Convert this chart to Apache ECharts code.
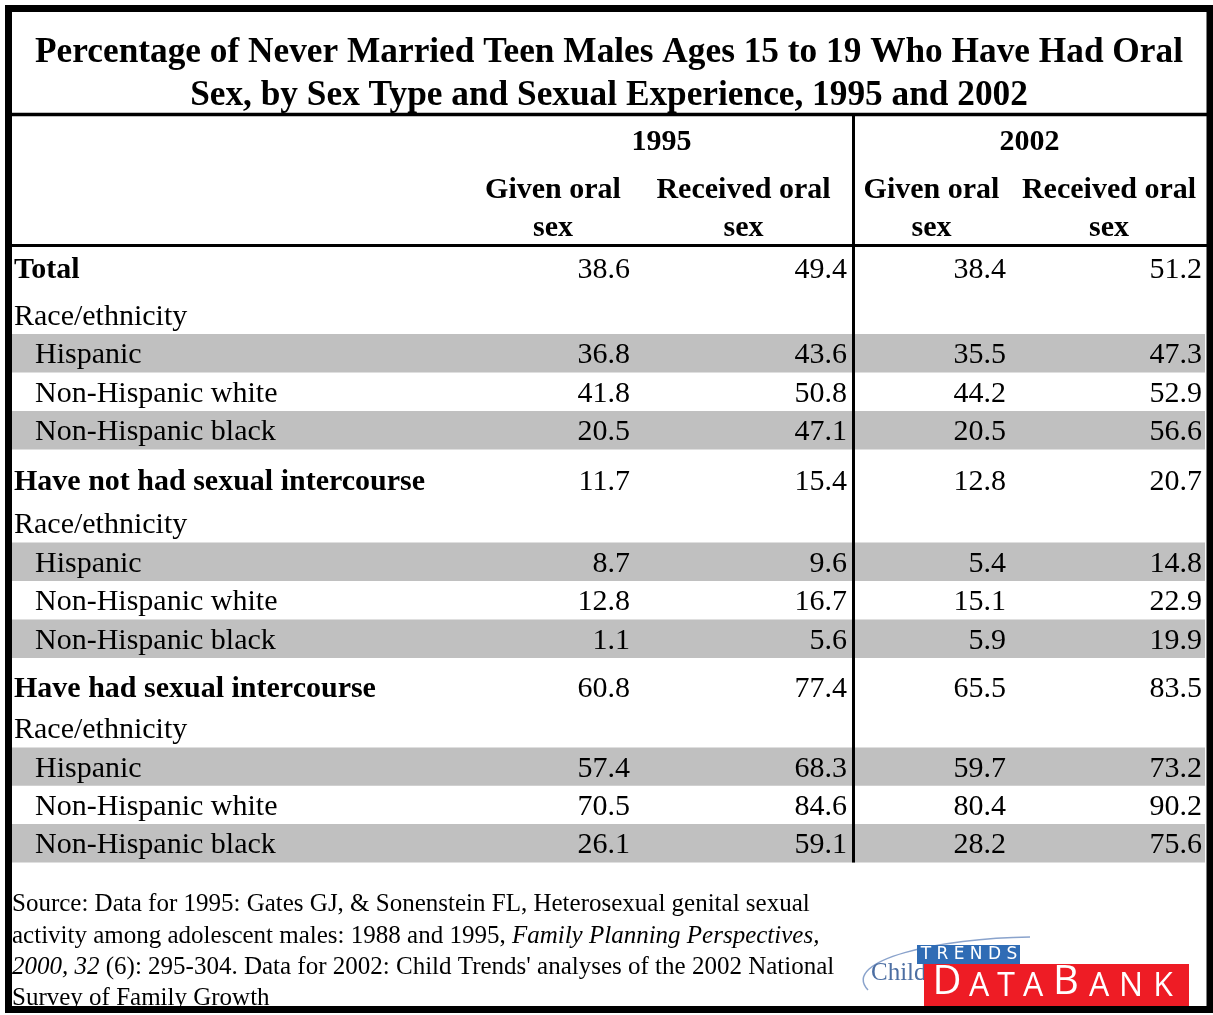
<!DOCTYPE html>
<html>
<head>
<meta charset="utf-8">
<title>Never married teen males - oral sex 1995 and 2002</title>
<script src="https://cdn.jsdelivr.net/npm/echarts@6/dist/echarts.min.js"></script>
<style>
  html, body { margin: 0; padding: 0; background: #fff; }
  #main { width: 1213px; height: 1015px; }
</style>
</head>
<body>
<div id="main"></div>
<script>
// row labels of the table
var rowLabels = [
  "Total", "Race/ethnicity", "Hispanic", "Non-Hispanic white", "Non-Hispanic black",
  "Have not had sexual intercourse", "Race/ethnicity", "Hispanic", "Non-Hispanic white", "Non-Hispanic black",
  "Have had sexual intercourse", "Race/ethnicity", "Hispanic", "Non-Hispanic white", "Non-Hispanic black"
];
// 0 = group row (bold), 1 = race/ethnicity caption, 2 = subgroup (indented)
var rowKinds = [0, 1, 2, 2, 2, 0, 1, 2, 2, 2, 0, 1, 2, 2, 2];
var shadedRows = [2, 4, 7, 9, 12, 14];

// percentages, "-" = no value in that row
var given1995    = [38.6, "-", 36.8, 41.8, 20.5, 11.7, "-", 8.7, 12.8, 1.1, 60.8, "-", 57.4, 70.5, 26.1];
var received1995 = [49.4, "-", 43.6, 50.8, 47.1, 15.4, "-", 9.6, 16.7, 5.6, 77.4, "-", 68.3, 84.6, 59.1];
var given2002    = [38.4, "-", 35.5, 44.2, 20.5, 12.8, "-", 5.4, 15.1, 5.9, 65.5, "-", 59.7, 80.4, 28.2];
var received2002 = [51.2, "-", 47.3, 52.9, 56.6, 20.7, "-", 14.8, 22.9, 19.9, 83.5, "-", 73.2, 90.2, 75.6];

var years = ["1995", "2002"];
var measures = ["Given oral\nsex", "Received oral\nsex"];

var titleText = "Percentage of Never Married Teen Males Ages 15 to 19 Who Have Had Oral\nSex, by Sex Type and Sexual Experience, 1995 and 2002";
var sourceText =
  "Source: Data for 1995: Gates GJ, & Sonenstein FL, Heterosexual genital sexual\n" +
  "activity among adolescent males: 1988 and 1995, {i|Family Planning Perspectives,}\n" +
  "{i|2000, 32} (6): 295-304. Data for 2002: Child Trends' analyses of the 2002 National\n" +
  "Survey of Family Growth";

// layout (px)
var colEdges = [0, 459, 623, 840, 999, 1195];
var headHeights = [47, 82];
var rowHeights = [42, 47, 38.5, 38.5, 38.5, 50, 43, 38.5, 38.5, 38.5, 48.5, 41, 38.3, 38.3, 38.3];
var serif = '"Liberation Serif", "Times New Roman", serif';

var headTotal = headHeights[0] + headHeights[1];
var rowTops = [];
var acc = headTotal;
for (var i = 0; i < rowLabels.length; i++) {
  rowTops.push(acc);
  acc += rowHeights[i];
}
var totalH = acc;

// header cells: [header row, first column, last column edge]
var headerCells = [];
var headerTexts = [];
for (var y = 0; y < years.length; y++) {
  headerCells.push([0, 1 + y * 2, 3 + y * 2]);
  headerTexts.push(years[y]);
  for (var m = 0; m < measures.length; m++) {
    headerCells.push([1, 1 + y * 2 + m, 2 + y * 2 + m]);
    headerTexts.push(measures[m]);
  }
}

var bodyData = rowLabels.map(function (l, i) {
  return [i, given1995[i], received1995[i], given2002[i], received2002[i]];
});

function renderHeader(params, api) {
  var row = api.value(0);
  var top = row === 0 ? 0 : headHeights[0];
  var a = api.coord([colEdges[api.value(1)], top]);
  var b = api.coord([colEdges[api.value(2)], top + headHeights[row]]);
  return {
    type: "text",
    x: (a[0] + b[0]) / 2,
    y: (a[1] + b[1]) / 2 + (row === 0 ? 3 : 5),
    style: {
      text: headerTexts[params.dataIndex],
      font: "bold 30px " + serif,
      fill: "#000",
      lineHeight: 38,
      align: "center",
      verticalAlign: "middle"
    }
  };
}

function renderBody(params, api) {
  var i = params.dataIndex;
  var top = rowTops[i];
  var a = api.coord([colEdges[0], top]);
  var b = api.coord([colEdges[5], top + rowHeights[i]]);
  // text sits near the bottom of its row, as in a spreadsheet
  var ty = b[1] - 17;
  var kids = [];
  if (shadedRows.indexOf(i) >= 0) {
    kids.push({
      type: "rect",
      shape: { x: a[0], y: a[1], width: b[0] - a[0] - 2, height: b[1] - a[1] },
      style: { fill: "#c0c0c0" }
    });
  }
  kids.push({
    type: "text",
    x: a[0] + (rowKinds[i] === 2 ? 23 : 2),
    y: ty,
    style: {
      text: rowLabels[i],
      font: (rowKinds[i] === 0 ? "bold " : "") + "30px " + serif,
      fill: "#000",
      align: "left",
      verticalAlign: "middle"
    }
  });
  for (var c = 1; c <= 4; c++) {
    var v = api.value(c);
    if (v == null || isNaN(v)) continue;
    var r = api.coord([colEdges[c + 1], top]);
    kids.push({
      type: "text",
      x: r[0] - 5,
      y: ty,
      style: {
        text: Number(v).toFixed(1),
        font: "30px " + serif,
        fill: "#000",
        align: "right",
        verticalAlign: "middle"
      }
    });
  }
  return { type: "group", children: kids };
}

// DATABANK letters of the logo
var logoLetters = [
  ["D", 947, 40], ["A", 979, 32], ["T", 1006, 32], ["A", 1033, 32],
  ["B", 1066, 40], ["A", 1099, 32], ["N", 1131, 32], ["K", 1163, 32]
];

var logo = [
  {
    type: "bezierCurve",
    shape: { x1: 868, y1: 990, cpx1: 840, cpy1: 960, cpx2: 940, cpy2: 938, x2: 1030, y2: 937 },
    style: { stroke: "#8aa3cc", lineWidth: 1.5, fill: null }
  },
  {
    type: "text", x: 871, y: 973,
    style: { text: "Child", font: "25px " + serif, fill: "#4d6fa3", verticalAlign: "middle" }
  },
  { type: "rect", shape: { x: 917, y: 945, width: 103, height: 19 }, style: { fill: "#2f6cb5" } },
  {
    type: "text", x: 969, y: 955,
    style: { text: "T R E N D S", font: "17px \"DejaVu Sans\", sans-serif", fill: "#fff", align: "center", verticalAlign: "middle" }
  },
  { type: "rect", shape: { x: 924, y: 964, width: 265, height: 43 }, style: { fill: "#ee1c25" } }
];
logoLetters.forEach(function (l) {
  logo.push({
    type: "text", x: l[1], y: 1003,
    style: { text: l[0], font: l[2] + "px \"Open Sans\", \"DejaVu Sans\", sans-serif", fill: "#fff", align: "center", verticalAlign: "bottom" }
  });
});

var myChart = echarts.init(document.getElementById("main"));
var option = {
  animation: false,
  backgroundColor: "#fff",
  grid: { left: 12, top: 116, width: 1195, height: totalH },
  xAxis: { type: "value", min: 0, max: colEdges[5], show: false },
  yAxis: { type: "value", min: 0, max: totalH, inverse: true, show: false },
  graphic: [
    {
      type: "text", x: 609, y: 31,
      style: {
        text: titleText,
        font: "bold 35.3px " + serif,
        fill: "#000",
        lineHeight: 43,
        align: "center",
        verticalAlign: "top"
      }
    },
    {
      type: "text", x: 12, y: 889,
      style: {
        text: sourceText,
        font: "25px " + serif,
        fill: "#000",
        lineHeight: 31.3,
        verticalAlign: "top",
        rich: {
          i: { fontStyle: "italic", fontSize: 25, fontFamily: serif, lineHeight: 31.3 }
        }
      }
    },
    { type: "line", shape: { x1: 12, y1: 114.5, x2: 1207, y2: 114.5 }, style: { stroke: "#000", lineWidth: 3.5 } },
    {
      type: "rect", z: 100,
      shape: { x: 8.5, y: 8.5, width: 1201.5, height: 1001 },
      style: { stroke: "#000", lineWidth: 7, fill: null }
    }
  ].concat(logo),
  series: [
    {
      type: "custom",
      name: "header",
      renderItem: renderHeader,
      encode: { x: 1, y: 0 },
      data: headerCells,
      silent: true
    },
    {
      type: "custom",
      name: "rows",
      renderItem: renderBody,
      encode: { x: 0, y: 0 },
      data: bodyData,
      silent: true,
      z: 1,
      markLine: {
        silent: true,
        symbol: "none",
        label: { show: false },
        lineStyle: { color: "#000", width: 3, type: "solid" },
        data: [{ xAxis: colEdges[3] + 1.5 }, { yAxis: headTotal }]
      }
    }
  ]
};
myChart.setOption(option);
</script>
</body>
</html>
